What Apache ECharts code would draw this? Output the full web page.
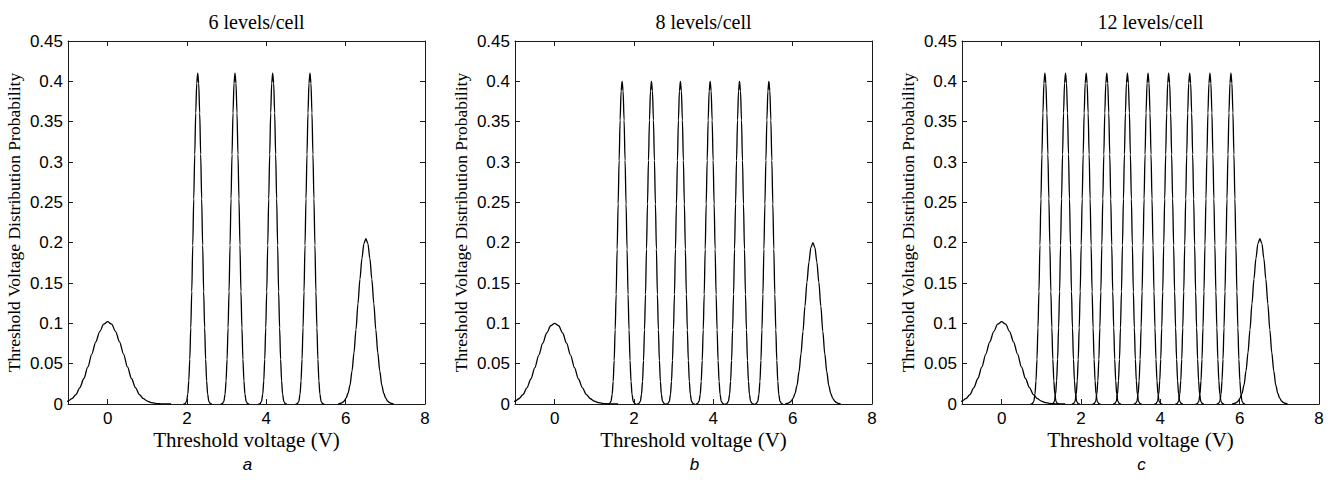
<!DOCTYPE html>
<html><head><meta charset="utf-8">
<script src="https://cdn.jsdelivr.net/npm/echarts@6/dist/echarts.min.js"></script>
<style>html,body{margin:0;padding:0;background:#fff}#c{width:1335px;height:480px}</style>
</head><body><div id="c"></div>
<script>
// ---- data ----
const panelTitles = ['6 levels/cell', '8 levels/cell', '12 levels/cell'];
const panelLetters = ['a', 'b', 'c'];
const xName = 'Threshold voltage (V)';
const yName = 'Threshold Voltage Distribution Probability';
const xTicks = [0, 2, 4, 6, 8];

// peak centres (V), peak heights and peak kinds for each panel
const centersA = [0, 2.27, 3.21, 4.16, 5.10, 6.51];
const heightsA = [0.102, 0.41, 0.41, 0.41, 0.41, 0.205];
const kindsA   = ['wide', 'narrow', 'narrow', 'narrow', 'narrow', 'mid'];

const centersB = [0, 1.70, 2.44, 3.17, 3.92, 4.66, 5.40, 6.51];
const heightsB = [0.100, 0.40, 0.40, 0.40, 0.40, 0.40, 0.40, 0.200];
const kindsB   = ['wide', 'narrow', 'narrow', 'narrow', 'narrow', 'narrow', 'narrow', 'mid'];

const centersC = [0, 1.09, 1.61, 2.13, 2.65, 3.17, 3.69, 4.21, 4.74, 5.25, 5.78, 6.51];
const heightsC = [0.102, 0.41, 0.41, 0.41, 0.41, 0.41, 0.41, 0.41, 0.41, 0.41, 0.41, 0.205];
const kindsC   = ['wide', 'narrow', 'narrow', 'narrow', 'narrow', 'narrow', 'narrow', 'narrow', 'narrow', 'narrow', 'narrow', 'mid'];

// half profiles: distance from centre (V) -> fraction of peak height
const wideOffsets = [0, 0.1, 0.2, 0.3, 0.4, 0.5, 0.6, 0.7, 0.8, 0.9, 1.0, 1.1, 1.2, 1.3, 1.4, 1.6];
const wideShape   = [1, 0.97, 0.88, 0.755, 0.607, 0.45, 0.31, 0.2, 0.115, 0.065, 0.035, 0.017, 0.008, 0.003, 0.001, 0];
const midOffsets  = [0, 0.05, 0.1, 0.15, 0.2, 0.25, 0.3, 0.35, 0.4, 0.45, 0.5, 0.55, 0.6, 0.65, 0.7];
const midShape    = [1, 0.97, 0.88, 0.755, 0.607, 0.45, 0.31, 0.2, 0.115, 0.065, 0.035, 0.017, 0.008, 0.003, 0];
const narrowOffsets = [0, 0.025, 0.05, 0.075, 0.1, 0.125, 0.15, 0.175, 0.2, 0.225, 0.25, 0.28, 0.32, 0.36];
const narrowShape   = [1, 0.97, 0.88, 0.755, 0.62, 0.48, 0.34, 0.23, 0.135, 0.07, 0.03, 0.008, 0.001, 0];

// ---- build ----
const profiles = {
  wide: [wideOffsets, wideShape],
  mid: [midOffsets, midShape],
  narrow: [narrowOffsets, narrowShape]
};
const panels = [
  [centersA, heightsA, kindsA],
  [centersB, heightsB, kindsB],
  [centersC, heightsC, kindsC]
];
const gridLefts = [68, 515, 962];
const gridWidth = 357;
const gridTop = 41, gridHeight = 363;
const serif = 'Liberation Serif';
const sans = 'Liberation Sans';
const axisColor = '#1a1a1a';

function peakData(c, h, kind) {
  const [off, shp] = profiles[kind];
  const pts = [];
  for (let i = off.length - 1; i > 0; i--) pts.push([c - off[i], h * shp[i]]);
  for (let i = 0; i < off.length; i++) pts.push([c + off[i], h * shp[i]]);
  return pts;
}

const grid = [], xAxis = [], yAxis = [], series = [], title = [];
panels.forEach((p, k) => {
  grid.push({left: gridLefts[k], top: gridTop, width: gridWidth, height: gridHeight, containLabel: false});
  const lineStyle = {color: axisColor, width: 1};
  xAxis.push({
    type: 'value', gridIndex: k, min: -1, max: 8, position: 'bottom',
    axisLine: {show: true, onZero: false, lineStyle},
    axisTick: {show: true, inside: true, length: 5, customValues: xTicks, lineStyle},
    axisLabel: {show: true, customValues: xTicks, margin: 6, color: '#000', fontFamily: sans, fontSize: 17},
    splitLine: {show: false},
    name: xName, nameLocation: 'middle', nameGap: 25, nameMoveOverlap: false,
    nameTextStyle: {fontFamily: serif, fontSize: 21, color: '#000'}
  });
  xAxis.push({
    type: 'value', gridIndex: k, min: -1, max: 8, position: 'top',
    axisLine: {show: true, onZero: false, lineStyle},
    axisTick: {show: true, inside: true, length: 5, customValues: xTicks, lineStyle},
    axisLabel: {show: false},
    splitLine: {show: false}
  });
  yAxis.push({
    type: 'value', gridIndex: k, min: 0, max: 0.45, interval: 0.05, position: 'left',
    axisLine: {show: true, onZero: false, lineStyle},
    axisTick: {show: true, inside: true, length: 5, lineStyle},
    axisLabel: {show: true, margin: 5, color: '#000', fontFamily: sans, fontSize: 17},
    splitLine: {show: false},
    name: yName, nameLocation: 'middle', nameGap: 45, nameRotate: 90,
    nameTextStyle: {fontFamily: serif, fontSize: 17.5, color: '#000'}
  });
  yAxis.push({
    type: 'value', gridIndex: k, min: 0, max: 0.45, interval: 0.05, position: 'right',
    axisLine: {show: true, onZero: false, lineStyle},
    axisTick: {show: true, inside: true, length: 5, lineStyle},
    axisLabel: {show: false},
    splitLine: {show: false}
  });
  const [cs, hs, ks] = p;
  cs.forEach((c, i) => {
    series.push({
      type: 'line', xAxisIndex: 2 * k, yAxisIndex: 2 * k,
      data: peakData(c, hs[i], ks[i]),
      showSymbol: false, smooth: 0.3, smoothMonotone: 'x', clip: true,
      lineStyle: {color: '#000', width: 1.3}, silent: true
    });
  });
  const cx = gridLefts[k] + gridWidth / 2;
  title.push({
    text: panelTitles[k], left: cx + 5, top: 7, textAlign: 'center',
    textStyle: {fontFamily: serif, fontSize: 20, fontWeight: 'normal', color: '#000'}
  });
  title.push({
    text: panelLetters[k], left: cx - 4, top: 451, textAlign: 'center',
    textStyle: {fontFamily: sans, fontSize: 17, fontStyle: 'italic', fontWeight: 'normal', color: '#000'}
  });
});

const chart = echarts.init(document.getElementById('c'), null, {renderer: 'svg'});
chart.setOption({animation: false, backgroundColor: '#fff', grid, xAxis, yAxis, series, title});
</script></body></html>
